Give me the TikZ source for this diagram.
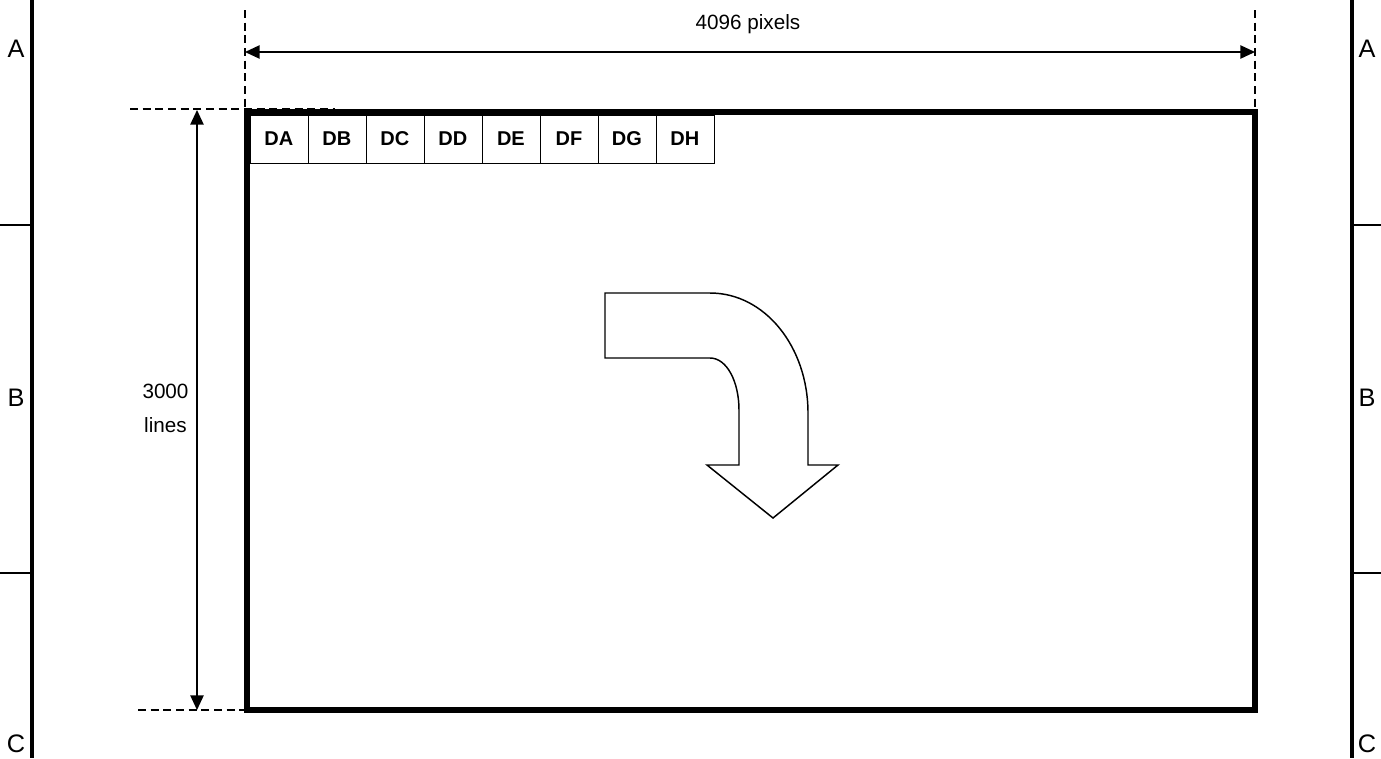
\documentclass[tikz,border=0pt]{standalone}
\usepackage{fontspec}
\setmainfont{Liberation Sans}
\usetikzlibrary{arrows.meta}
\begin{document}
\begin{tikzpicture}[x=0.75pt,y=-0.75pt,
  frameline/.style={line width=3.5pt},
  tickline/.style={line width=0.9pt},
  dimline/.style={line width=1.1pt,{Triangle[length=11pt,width=10pt]}-{Triangle[length=11pt,width=10pt]}},
  guide/.style={line width=0.9pt,dash pattern=on 6pt off 3.5pt},
  zone/.style={font=\fontsize{19}{20}\selectfont},
  cell/.style={draw,line width=0.6pt,minimum width=43.5pt,minimum height=36pt,inner sep=0pt,font=\fontsize{15}{16}\selectfont\bfseries},
  dimtext/.style={font=\fontsize{15.5}{25}\selectfont}]
\useasboundingbox (0,0) rectangle (1381,758);
% outer frame lines
\draw[frameline] (32,0) -- (32,758);
\draw[frameline] (1352,0) -- (1352,758);
\draw[tickline] (0,225) -- (32,225);
\draw[tickline] (0,573) -- (32,573);
\draw[tickline] (1352,225) -- (1381,225);
\draw[tickline] (1352,573) -- (1381,573);
\node[zone,anchor=center] (la) at (16,49) {A};
\node[zone,anchor=center] (lb) at (16,398) {B};
\node[zone,anchor=center] (lc) at (16,744) {C};
\node[zone,anchor=center] (ra) at (1367,49) {A};
\node[zone,anchor=center] (rb) at (1367,398) {B};
\node[zone,anchor=center] (rc) at (1367,744) {C};
% guide lines
\coordinate (tl) at (247,112);
\coordinate (br) at (1255,710);
\draw[guide] (245,10) -- (245,110);
\draw[guide] (1255,10) -- (1255,110);
\draw[guide] (130,109) -- (335,109);
\draw[guide] (138,710) -- (245,710);
% dimension arrows
\coordinate (wl) at (245,52);
\coordinate (wr) at (1255,52);
\draw[dimline] (wl) -- (wr);
\node[dimtext,anchor=base] (wtext) at (748,29) {4096 pixels};
\coordinate (ht) at (197,110);
\coordinate (hb) at (197,710);
\draw[dimline] (ht) -- (hb);
\node[dimtext,align=center,anchor=center] (htext) at (165.5,408.5) {3000\\lines};
% main rectangle
\draw[line width=3.8pt] (tl) rectangle (br);
% cells
\foreach \t [count=\i from 0] in {DA,DB,DC,DD,DE,DF,DG,DH}{
  \node[cell,anchor=north west] (c\t) at ({249.5+58*\i},114.5) {\t};
}
% bent arrow
\draw[line width=1.1pt,fill=white,line join=miter]
  (605,293) -- (710,293)
  .. controls (765,293) and (808,347) .. (808,413)
  -- (808,465) -- (838,465) -- (773,518) -- (707,465) -- (739,465) -- (739,410)
  .. controls (739,382) and (727,358) .. (710,358)
  -- (605,358) -- cycle;
\end{tikzpicture}
\end{document}
